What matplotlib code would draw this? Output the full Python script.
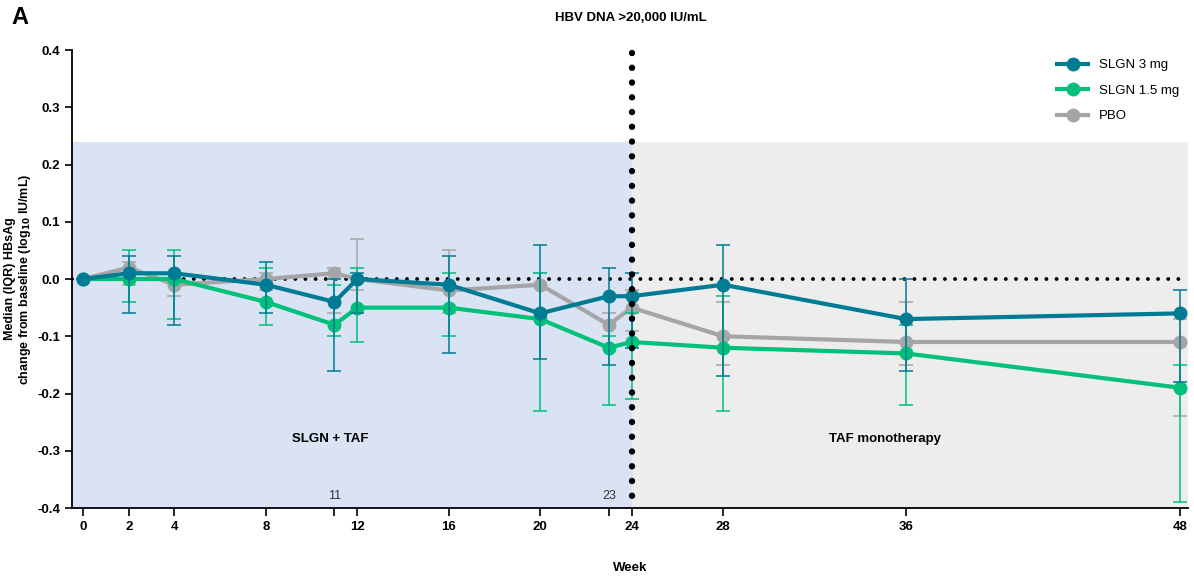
import matplotlib.pyplot as plt

plt.rcParams["font.family"] = ["Liberation Sans", "DejaVu Sans"]

weeks = [0, 2, 4, 8, 11, 12, 16, 20, 23, 24, 28, 36, 48]

slgn3_median = [0, 0.01, 0.01, -0.01, -0.04, 0.0, -0.01, -0.06, -0.03, -0.03, -0.01, -0.07, -0.06]
slgn3_q1 = [0, -0.06, -0.08, -0.06, -0.16, -0.06, -0.13, -0.14, -0.15, -0.12, -0.17, -0.16, -0.18]
slgn3_q3 = [0, 0.04, 0.04, 0.03, 0.00, 0.01, 0.04, 0.06, 0.02, 0.01, 0.06, 0.00, -0.02]

slgn15_median = [0, 0.0, 0.0, -0.04, -0.08, -0.05, -0.05, -0.07, -0.12, -0.11, -0.12, -0.13, -0.19]
slgn15_q1 = [0, -0.04, -0.07, -0.08, -0.10, -0.11, -0.10, -0.23, -0.22, -0.21, -0.23, -0.22, -0.39]
slgn15_q3 = [0, 0.05, 0.05, 0.02, -0.01, 0.02, 0.01, 0.01, -0.10, -0.06, -0.03, -0.08, -0.15]

pbo_median = [0, 0.02, -0.01, 0.0, 0.01, 0.0, -0.02, -0.01, -0.08, -0.05, -0.10, -0.11, -0.11]
pbo_q1 = [0, -0.01, -0.03, -0.02, -0.06, -0.02, -0.06, -0.06, -0.12, -0.09, -0.15, -0.15, -0.24]
pbo_q3 = [0, 0.03, 0.01, 0.01, 0.02, 0.07, 0.05, 0.01, -0.06, -0.02, -0.04, -0.04, -0.07]

major_weeks = [0, 2, 4, 8, 12, 16, 20, 24, 28, 36, 48]
minor_weeks = [11, 23]

series = [
    ("PBO", pbo_median, pbo_q1, pbo_q3, "#a5a5a8"),
    ("SLGN 1.5 mg", slgn15_median, slgn15_q1, slgn15_q3, "#00c07a"),
    ("SLGN 3 mg", slgn3_median, slgn3_q1, slgn3_q3, "#007b94"),
]

fig = plt.figure(figsize=(11.94, 5.79), dpi=100)
ax = fig.add_axes([0.0603, 0.1226, 0.935, 0.791])

xmin, xmax = -0.48, 48.35
ax.set_xlim(xmin, xmax)
ax.set_ylim(-0.4, 0.4)

# treatment phase backgrounds
ax.fill_between([xmin, 24], -0.4, 0.24, color="#dae3f3", lw=0, zorder=0)
ax.fill_between([24, xmax], -0.4, 0.24, color="#ededed", lw=0, zorder=0)

ax.axhline(0, color="black", ls=(0, (0.01, 2.6)), lw=2.8, dash_capstyle="round",
           zorder=1)
# phase boundary, dotted from the top down
ax.plot([24, 24], [0.395, -0.4], color="black", ls=(0, (0.01, 2.3)), lw=4.6,
        dash_capstyle="round", zorder=6, clip_on=False)

handles = {}
for z, (name, med, q1, q3, col) in enumerate(series):
    lower = [m - q for m, q in zip(med, q1)]
    upper = [q - m for m, q in zip(med, q3)]
    ax.errorbar(weeks, med, yerr=[lower, upper], fmt="none", ecolor=col,
                elinewidth=1.3, capsize=5, capthick=1.3, alpha=0.85, zorder=2 + z)
    (h,) = ax.plot(weeks, med, color=col, lw=3, marker="o", ms=9, zorder=3 + z,
                   label=name)
    handles[name] = h

ax.legend([handles["SLGN 3 mg"], handles["SLGN 1.5 mg"], handles["PBO"]],
          ["SLGN 3 mg", "SLGN 1.5 mg", "PBO"], loc="upper right",
          bbox_to_anchor=(1.0, 1.0), frameon=False, fontsize=9.5,
          handlelength=2.4, labelspacing=1.0, borderaxespad=0.3)

ax.set_xticks(major_weeks)
ax.set_xticklabels([str(w) for w in major_weeks], fontweight="bold", fontsize=9.5)
ax.set_xticks(minor_weeks, minor=True)
for w in minor_weeks:
    ax.text(w, -0.39, str(w), ha="center", va="bottom", fontsize=9, color="#333333")
ax.tick_params(axis="x", which="both", direction="out", length=6, width=1.2)

ax.set_yticks([-0.4, -0.3, -0.2, -0.1, 0.0, 0.1, 0.2, 0.3, 0.4])
ax.set_yticklabels([f"{v:.1f}" for v in ax.get_yticks()], fontweight="bold",
                   fontsize=9.5)
ax.tick_params(axis="y", direction="out", length=5, width=1.2)

for side in ("top", "right"):
    ax.spines[side].set_visible(False)
for side in ("left", "bottom"):
    ax.spines[side].set_linewidth(1.3)

ax.set_ylabel("Median (IQR) HBsAg\nchange from baseline (log$_{\\mathbf{10}}$ IU/mL)",
              fontweight="bold", fontsize=9, labelpad=3, linespacing=1.1)
ax.set_xlabel("Week", fontweight="bold", fontsize=9.5, labelpad=21)

ax.text(10.8, -0.28, "SLGN + TAF", ha="center", va="center", fontweight="bold",
        fontsize=9.5)
ax.text(35.1, -0.28, "TAF monotherapy", ha="center", va="center",
        fontweight="bold", fontsize=9.5)

fig.text(631 / 1194, 1 - 18 / 579, "HBV DNA >20,000 IU/mL", ha="center",
         va="center", fontweight="bold", fontsize=9.5)
fig.text(11 / 1194, 1 - 17 / 579, "A", ha="left", va="center", fontweight="bold",
         fontsize=17)

fig.savefig("out.png", dpi=100)
